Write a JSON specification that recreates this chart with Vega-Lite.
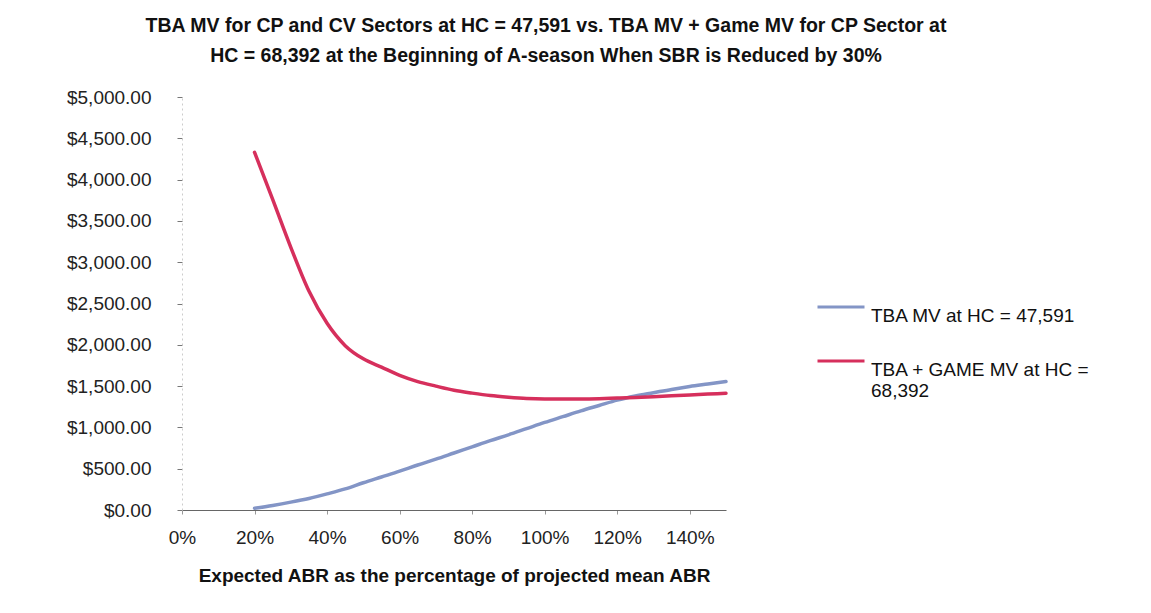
{
  "$schema": "https://vega.github.io/schema/vega-lite/v6.json",
  "autosize": "none",
  "width": 544,
  "height": 413,
  "padding": {"left": 182, "top": 97, "right": 425, "bottom": 103},
  "background": "white",
  "title": {
    "text": ["TBA MV for CP and CV Sectors at HC = 47,591 vs. TBA MV + Game MV for CP Sector at", "HC = 68,392 at the Beginning of A-season When SBR is Reduced by 30%"],
    "anchor": "middle",
    "dx": 92,
    "offset": 22,
    "font": "Liberation Sans",
    "fontSize": 19.5,
    "fontWeight": "bold",
    "lineHeight": 30,
    "color": "#111"
  },
  "config": {
    "view": {"stroke": null},
    "font": "Liberation Sans"
  },
  "data": {
    "values": [
      {"abr": 20, "series": "TBA MV at HC = 47,591", "mv": 20},
      {"abr": 25, "series": "TBA MV at HC = 47,591", "mv": 55},
      {"abr": 30, "series": "TBA MV at HC = 47,591", "mv": 95},
      {"abr": 35, "series": "TBA MV at HC = 47,591", "mv": 140},
      {"abr": 40, "series": "TBA MV at HC = 47,591", "mv": 195},
      {"abr": 45, "series": "TBA MV at HC = 47,591", "mv": 255},
      {"abr": 50, "series": "TBA MV at HC = 47,591", "mv": 330},
      {"abr": 55, "series": "TBA MV at HC = 47,591", "mv": 400},
      {"abr": 60, "series": "TBA MV at HC = 47,591", "mv": 470},
      {"abr": 65, "series": "TBA MV at HC = 47,591", "mv": 545},
      {"abr": 70, "series": "TBA MV at HC = 47,591", "mv": 615},
      {"abr": 75, "series": "TBA MV at HC = 47,591", "mv": 690},
      {"abr": 80, "series": "TBA MV at HC = 47,591", "mv": 765},
      {"abr": 85, "series": "TBA MV at HC = 47,591", "mv": 840},
      {"abr": 90, "series": "TBA MV at HC = 47,591", "mv": 910},
      {"abr": 95, "series": "TBA MV at HC = 47,591", "mv": 985},
      {"abr": 100, "series": "TBA MV at HC = 47,591", "mv": 1060},
      {"abr": 105, "series": "TBA MV at HC = 47,591", "mv": 1130},
      {"abr": 110, "series": "TBA MV at HC = 47,591", "mv": 1200},
      {"abr": 115, "series": "TBA MV at HC = 47,591", "mv": 1265},
      {"abr": 120, "series": "TBA MV at HC = 47,591", "mv": 1330},
      {"abr": 125, "series": "TBA MV at HC = 47,591", "mv": 1380},
      {"abr": 130, "series": "TBA MV at HC = 47,591", "mv": 1420},
      {"abr": 135, "series": "TBA MV at HC = 47,591", "mv": 1460},
      {"abr": 140, "series": "TBA MV at HC = 47,591", "mv": 1495},
      {"abr": 145, "series": "TBA MV at HC = 47,591", "mv": 1525},
      {"abr": 150, "series": "TBA MV at HC = 47,591", "mv": 1555},
      {"abr": 20, "series": "TBA + GAME MV at HC = 68,392", "mv": 4330},
      {"abr": 25, "series": "TBA + GAME MV at HC = 68,392", "mv": 3760},
      {"abr": 30, "series": "TBA + GAME MV at HC = 68,392", "mv": 3180},
      {"abr": 35, "series": "TBA + GAME MV at HC = 68,392", "mv": 2650},
      {"abr": 40, "series": "TBA + GAME MV at HC = 68,392", "mv": 2260},
      {"abr": 45, "series": "TBA + GAME MV at HC = 68,392", "mv": 1990},
      {"abr": 50, "series": "TBA + GAME MV at HC = 68,392", "mv": 1830},
      {"abr": 55, "series": "TBA + GAME MV at HC = 68,392", "mv": 1730},
      {"abr": 60, "series": "TBA + GAME MV at HC = 68,392", "mv": 1630},
      {"abr": 65, "series": "TBA + GAME MV at HC = 68,392", "mv": 1555},
      {"abr": 70, "series": "TBA + GAME MV at HC = 68,392", "mv": 1500},
      {"abr": 75, "series": "TBA + GAME MV at HC = 68,392", "mv": 1450},
      {"abr": 80, "series": "TBA + GAME MV at HC = 68,392", "mv": 1415},
      {"abr": 85, "series": "TBA + GAME MV at HC = 68,392", "mv": 1385},
      {"abr": 90, "series": "TBA + GAME MV at HC = 68,392", "mv": 1365},
      {"abr": 95, "series": "TBA + GAME MV at HC = 68,392", "mv": 1350},
      {"abr": 100, "series": "TBA + GAME MV at HC = 68,392", "mv": 1345},
      {"abr": 105, "series": "TBA + GAME MV at HC = 68,392", "mv": 1345},
      {"abr": 110, "series": "TBA + GAME MV at HC = 68,392", "mv": 1345},
      {"abr": 115, "series": "TBA + GAME MV at HC = 68,392", "mv": 1348},
      {"abr": 120, "series": "TBA + GAME MV at HC = 68,392", "mv": 1355},
      {"abr": 125, "series": "TBA + GAME MV at HC = 68,392", "mv": 1362},
      {"abr": 130, "series": "TBA + GAME MV at HC = 68,392", "mv": 1372},
      {"abr": 135, "series": "TBA + GAME MV at HC = 68,392", "mv": 1383},
      {"abr": 140, "series": "TBA + GAME MV at HC = 68,392", "mv": 1393},
      {"abr": 145, "series": "TBA + GAME MV at HC = 68,392", "mv": 1403},
      {"abr": 150, "series": "TBA + GAME MV at HC = 68,392", "mv": 1413}
    ]
  },
  "mark": {"type": "line", "interpolate": "monotone", "strokeWidth": 3.5, "strokeCap": "round"},
  "encoding": {
    "x": {
      "field": "abr",
      "type": "quantitative",
      "scale": {"domain": [0, 150], "nice": false, "zero": false},
      "axis": {
        "title": "Expected ABR as the percentage of projected mean ABR",
        "titleFont": "Liberation Sans",
        "titleFontSize": 19,
        "titleFontWeight": "bold",
        "titleColor": "#111",
        "titlePadding": 19,
        "values": [0, 20, 40, 60, 80, 100, 120, 140],
        "labelExpr": "datum.value + '%'",
        "labelFontSize": 19,
        "labelColor": "#222",
        "labelPadding": 14,
        "labelFlush": false,
        "grid": false,
        "domainColor": "#666",
        "domainWidth": 1.2,
        "tickColor": "#999",
        "tickSize": 4
      }
    },
    "y": {
      "field": "mv",
      "type": "quantitative",
      "scale": {"domain": [0, 5000], "nice": false},
      "axis": {
        "title": null,
        "values": [0, 500, 1000, 1500, 2000, 2500, 3000, 3500, 4000, 4500, 5000],
        "format": "$,.2f",
        "labelFontSize": 19,
        "labelColor": "#222",
        "labelPadding": 26,
        "grid": false,
        "domainColor": "#ccc",
        "domainDash": [2, 3],
        "tickColor": "#777",
        "tickSize": 5
      }
    },
    "color": {
      "field": "series",
      "type": "nominal",
      "sort": ["TBA MV at HC = 47,591", "TBA + GAME MV at HC = 68,392"],
      "scale": {
        "domain": ["TBA MV at HC = 47,591", "TBA + GAME MV at HC = 68,392"],
        "range": ["#8395c6", "#d62f5c"]
      },
      "legend": {
        "title": null,
        "orient": "none",
        "legendX": 634,
        "legendY": 185,
        "symbolType": "stroke",
        "symbolSize": 2209,
        "symbolStrokeWidth": 3,
        "labelFontSize": 19,
        "labelColor": "#111",
        "labelOffset": 5,
        "labelLimit": 400,
        "labelBaseline": "top",
        "rowPadding": 10,
        "labelExpr": "datum.label == 'TBA + GAME MV at HC = 68,392' ? ['TBA + GAME MV at HC =', '68,392'] : datum.label"
      }
    }
  }
}
